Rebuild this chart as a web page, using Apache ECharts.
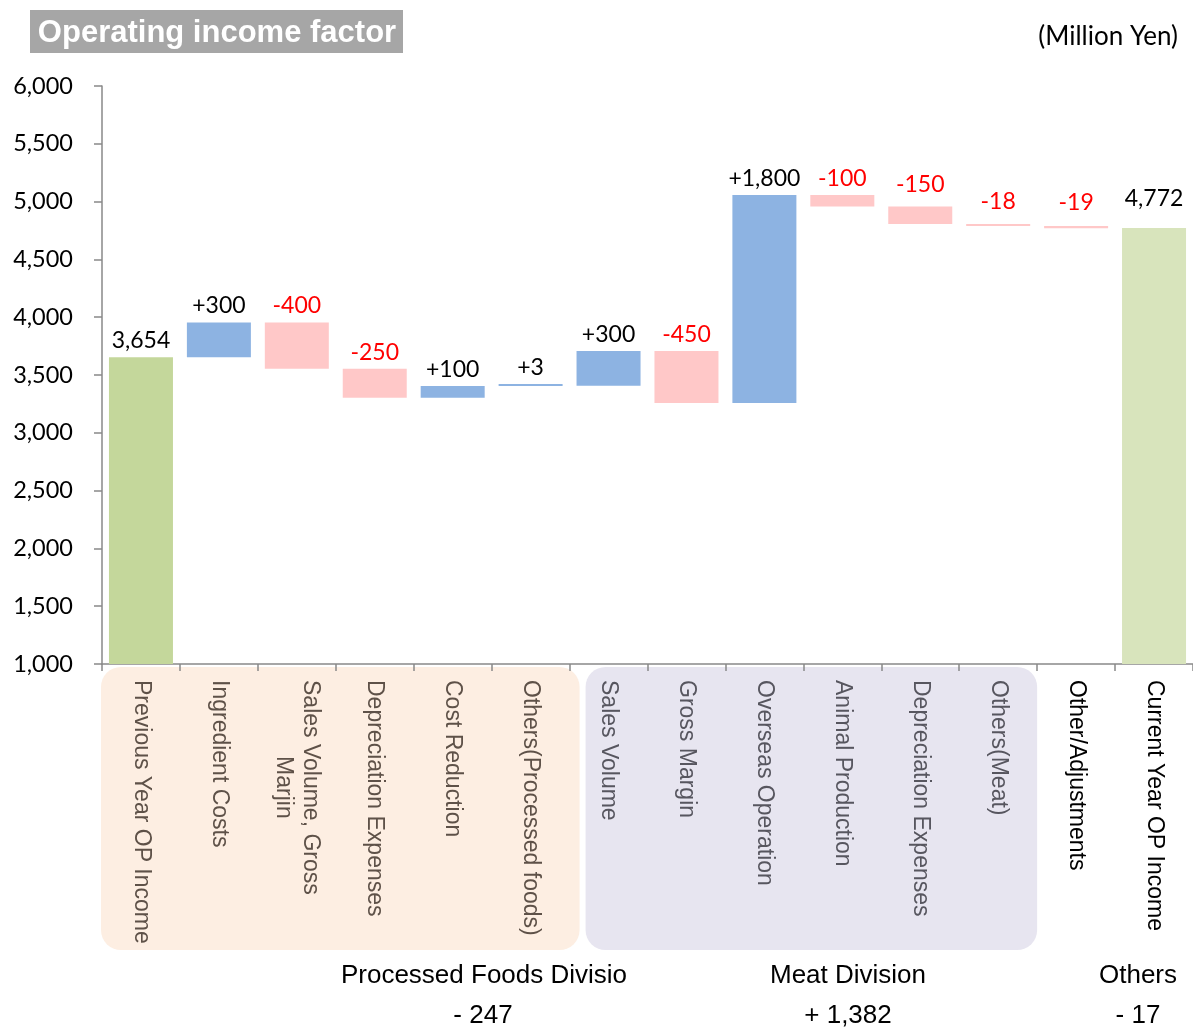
<!DOCTYPE html>
<html>
<head>
<meta charset="utf-8">
<script src="https://cdn.jsdelivr.net/npm/echarts@6/dist/echarts.min.js"></script>
<style>
  html, body { margin: 0; padding: 0; background: #fff; }
  #chart { width: 1193px; height: 1029px; }
</style>
</head>
<body>
<div id="chart"></div>
<script>
// Operating income bridge: previous year -> factors -> current year (Million Yen)
const categories = [
  'Previous Year OP Income',
  'Ingredient Costs',
  'Sales Volume, Gross\nMarjin',
  'Depreciation Expenses',
  'Cost Reduction',
  'Others(Processed foods)',
  'Sales Volume',
  'Gross Margin',
  'Overseas Operation',
  'Animal Production',
  'Depreciation Expenses',
  'Others(Meat)',
  'Other/Adjustments',
  'Current Year OP Income'
];
// division each category belongs to (drives the shaded band and label tint)
const divisions = ['pf', 'pf', 'pf', 'pf', 'pf', 'pf', 'meat', 'meat', 'meat', 'meat', 'meat', 'meat', 'none', 'none'];
const previousTotal = 3654;
const changes = [300, -400, -250, 100, 3, 300, -450, 1800, -100, -150, -18, -19];
const currentTotal = 4772;
const yTicks = { min: 1000, max: 6000, interval: 500 };
const divisionSummary = [
  { name: 'Processed Foods Division', value: '- 247' },
  { name: 'Meat Division', value: '+ 1,382' },
  { name: 'Others', value: '- 17' }
];

const COLORS = {
  total0: '#c4d79b',
  total1: '#d8e4bc',
  up: '#8db3e2',
  down: '#ffc8c8',
  neg: '#ff0000'
};

// extra gap between some value labels and their column
const labelGap = { 10: 10, 11: 11, 12: 12, 13: 18 };

// floating base + visible height for each column
const baseData = [0];
const barData = [{ value: previousTotal, kind: 'total', delta: previousTotal, itemStyle: { color: COLORS.total0 } }];
let running = previousTotal;
changes.forEach(function (c) {
  const next = running + c;
  baseData.push(Math.min(running, next));
  barData.push({ value: Math.abs(c), kind: 'change', delta: c, itemStyle: { color: c >= 0 ? COLORS.up : COLORS.down } });
  running = next;
});
baseData.push(0);
barData.push({ value: currentTotal, kind: 'total', delta: currentTotal, itemStyle: { color: COLORS.total1 } });
barData.forEach(function (d, i) {
  if (labelGap[i] !== undefined) d.label = { distance: labelGap[i] };
});

function fmt(n) {
  return Math.abs(n).toLocaleString('en-US');
}

// category label font and the centring offset for wrapped names
const CAT_SIZE = 23;
const CAT_FAMILY = '"Liberation Sans", Arial, sans-serif';
const measureCtx = document.createElement('canvas').getContext('2d');
measureCtx.font = CAT_SIZE + 'px ' + CAT_FAMILY;
function textWidth(s) { return measureCtx.measureText(s).width; }

const labelColors = { pf: '#5e5148', meat: '#57565f', none: '#000000' };
const rich = {};
Object.keys(labelColors).forEach(function (k) {
  rich[k] = { color: labelColors[k], fontSize: CAT_SIZE, fontFamily: CAT_FAMILY, lineHeight: 27 };
});
let richIdx = 0;
const formattedLabels = categories.map(function (name, i) {
  const lines = name.split('\n');
  const key = divisions[i];
  if (lines.length === 1) return '{' + key + '|' + name + '}';
  const w0 = textWidth(lines[0]);
  return lines.map(function (ln, j) {
    if (j === 0) return '{' + key + '|' + ln + '}';
    const style = key + 'Pad' + (richIdx++);
    rich[style] = Object.assign({}, rich[key], { padding: [0, 0, 0, Math.max(0, (w0 - textWidth(ln)) / 2)] });
    return '{' + style + '|' + ln + '}';
  }).join('\n');
});

const GRID = { left: 102, top: 86, width: 1091, height: 578 };
const chart = echarts.init(document.getElementById('chart'), null, { renderer: 'canvas' });

const catW = GRID.width / categories.length;
const bandTop = GRID.top + GRID.height + 3;
const bandH = 283;
const VALUE_FONT = 'Lato, "Open Sans", sans-serif';
const NOTE_FONT = '"Liberation Sans", Arial, sans-serif';

const option = {
  animation: false,
  backgroundColor: '#ffffff',
  grid: { left: GRID.left, top: GRID.top, width: GRID.width, height: GRID.height, containLabel: false },
  xAxis: {
    type: 'category',
    data: categories,
    axisLine: { lineStyle: { color: '#898989', width: 1.5 } },
    axisTick: { show: true, length: 7, lineStyle: { color: '#898989', width: 1.5 } },
    axisLabel: {
      rotate: -90,
      margin: 16,
      interval: 0,
      formatter: function (v, i) { return formattedLabels[i]; },
      rich: rich
    },
    splitLine: { show: false }
  },
  yAxis: {
    type: 'value',
    min: yTicks.min,
    max: yTicks.max,
    interval: yTicks.interval,
    axisLine: { show: true, lineStyle: { color: '#898989', width: 1.5 } },
    axisTick: { show: true, length: 8, lineStyle: { color: '#898989', width: 1.5 } },
    axisLabel: {
      margin: 29,
      color: '#000',
      fontSize: 23.5,
      fontFamily: VALUE_FONT,
      formatter: function (v) { return v.toLocaleString('en-US'); }
    },
    splitLine: { show: false }
  },
  series: [
    {
      name: 'base',
      type: 'bar',
      stack: 'bridge',
      barWidth: 64,
      silent: true,
      itemStyle: { color: 'transparent' },
      data: baseData
    },
    {
      name: 'change',
      type: 'bar',
      stack: 'bridge',
      barWidth: 64,
      barMinHeight: 2,
      data: barData,
      label: {
        show: true,
        position: 'top',
        distance: 5,
        formatter: function (p) {
          const d = p.data;
          if (d.kind === 'total') return '{k|' + fmt(d.delta) + '}';
          return d.delta >= 0 ? '{k|+' + fmt(d.delta) + '}' : '{r|-' + fmt(d.delta) + '}';
        },
        rich: {
          k: { color: '#000', fontSize: 23, fontFamily: VALUE_FONT },
          r: { color: COLORS.neg, fontSize: 23, fontFamily: VALUE_FONT }
        }
      }
    }
  ],
  graphic: [
    // division bands behind the category names
    {
      type: 'rect', z: -10, silent: true,
      shape: { x: GRID.left - 1, y: bandTop, width: catW * 6 + 11, height: bandH, r: 20 },
      style: { fill: '#fdeee2' }
    },
    {
      type: 'rect', z: -10, silent: true,
      shape: { x: GRID.left + catW * 6 + 16, y: bandTop, width: catW * 6 - 16, height: bandH, r: 20 },
      style: { fill: '#e7e5f0' }
    },
    // title block
    {
      type: 'rect', silent: true,
      shape: { x: 30, y: 10, width: 373, height: 43 },
      style: { fill: '#a6a6a6' }
    },
    {
      type: 'text', silent: true,
      x: 217, y: 33,
      style: {
        text: 'Operating income factor',
        fill: '#ffffff',
        font: 'bold 31px "Liberation Sans", Arial, sans-serif',
        align: 'center', verticalAlign: 'middle'
      }
    },
    {
      type: 'text', silent: true,
      x: 1178, y: 37,
      style: {
        text: '(Million Yen)',
        fill: '#000',
        font: '26px ' + VALUE_FONT,
        align: 'right', verticalAlign: 'middle'
      }
    },
    // division totals under the bands
    {
      type: 'text', silent: true,
      x: 484, y: 976,
      style: {
        text: divisionSummary[0].name, fill: '#000',
        font: '26px ' + NOTE_FONT,
        align: 'center', verticalAlign: 'middle',
        width: 292, overflow: 'truncate', ellipsis: ''
      }
    },
    {
      type: 'text', silent: true, x: 483, y: 1016,
      style: { text: divisionSummary[0].value, fill: '#000', font: '26px ' + NOTE_FONT, align: 'center', verticalAlign: 'middle' }
    },
    {
      type: 'text', silent: true, x: 848, y: 976,
      style: { text: divisionSummary[1].name, fill: '#000', font: '26px ' + NOTE_FONT, align: 'center', verticalAlign: 'middle' }
    },
    {
      type: 'text', silent: true, x: 848, y: 1016,
      style: { text: divisionSummary[1].value, fill: '#000', font: '26px ' + NOTE_FONT, align: 'center', verticalAlign: 'middle' }
    },
    {
      type: 'text', silent: true, x: 1138, y: 976,
      style: { text: divisionSummary[2].name, fill: '#000', font: '26px ' + NOTE_FONT, align: 'center', verticalAlign: 'middle' }
    },
    {
      type: 'text', silent: true, x: 1138, y: 1016,
      style: { text: divisionSummary[2].value, fill: '#000', font: '26px ' + NOTE_FONT, align: 'center', verticalAlign: 'middle' }
    }
  ]
};

chart.setOption(option);
</script>
</body>
</html>
